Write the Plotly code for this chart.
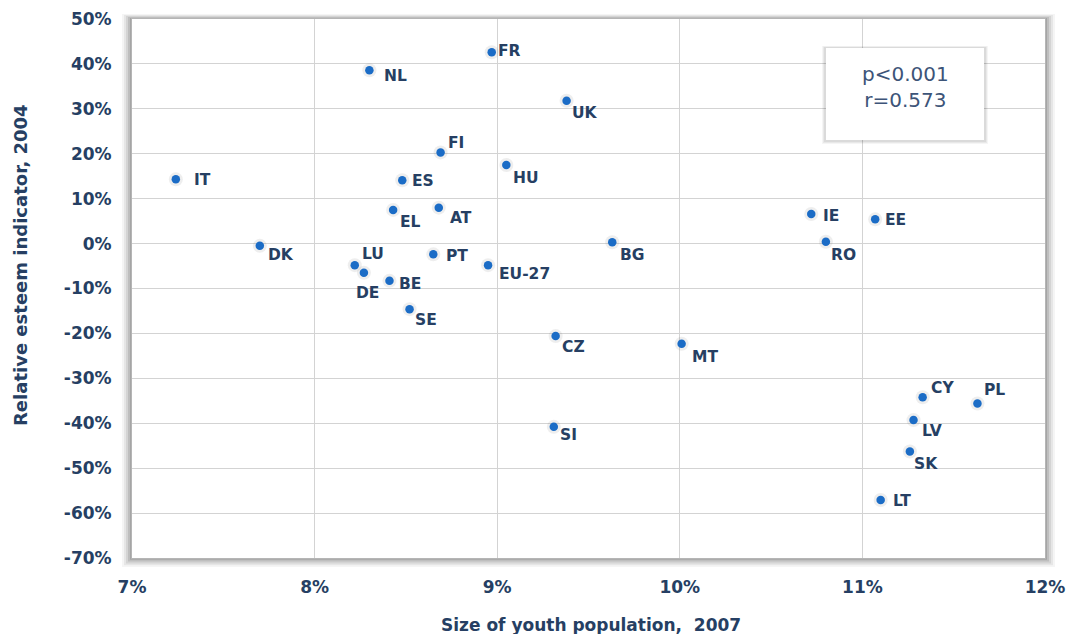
import plotly.graph_objects as go

# ---------------- data ----------------
countries = ["FR", "NL", "UK", "FI", "HU", "IT", "ES", "EL", "AT", "IE", "EE", "DK",
             "BG", "RO", "PT", "LU", "DE", "BE", "EU-27", "SE", "CZ", "MT", "CY",
             "PL", "LV", "SI", "SK", "LT"]
youth_pop_2007 = [8.97, 8.30, 9.38, 8.69, 9.05, 7.24, 8.48, 8.43, 8.68, 10.72, 11.07, 7.70,
                  9.63, 10.80, 8.65, 8.22, 8.27, 8.41, 8.95, 8.52, 9.32, 10.01, 11.33,
                  11.63, 11.28, 9.31, 11.26, 11.10]
esteem_2004 = [42.6, 38.6, 31.8, 20.3, 17.5, 14.3, 14.1, 7.5, 8.0, 6.6, 5.4, -0.5,
               0.3, 0.4, -2.4, -4.8, -6.5, -8.3, -4.8, -14.6, -20.6, -22.3, -34.2,
               -35.6, -39.3, -40.8, -46.3, -57.1]
x_tick_vals = [7, 8, 9, 10, 11, 12]
x_tick_text = ["7%", "8%", "9%", "10%", "11%", "12%"]
y_tick_vals = [-70, -60, -50, -40, -30, -20, -10, 0, 10, 20, 30, 40, 50]
y_tick_text = ["-70%", "-60%", "-50%", "-40%", "-30%", "-20%", "-10%", "0%",
               "10%", "20%", "30%", "40%", "50%"]
stats_lines = ["p<0.001", "r=0.573"]
x_title = "Size of youth population,  2007"
y_title = "Relative esteem indicator, 2004"

# label offsets (pixels: left edge of label relative to dot, vertical centre offset, + = down)
label_offsets = {
    "FR": (6, -1), "NL": (15, 6), "UK": (5, 12), "FI": (7, -9), "HU": (7, 13),
    "IT": (18, 1), "ES": (10, 1), "EL": (7, 12), "AT": (11, 10), "IE": (12, 2),
    "EE": (10, 1), "DK": (8, 9), "BG": (8, 13), "RO": (5, 13), "PT": (13, 2),
    "LU": (7, -11), "DE": (-8, 20), "BE": (10, 3), "EU-27": (11, 9), "SE": (5, 11),
    "CZ": (6, 11), "MT": (10, 13), "CY": (8, -9), "PL": (7, -13), "LV": (8, 11),
    "SI": (6, 8), "SK": (4, 12), "LT": (12, 1),
}

NAVY = "#263f63"
FONT_B = "DejaVu Sans"
SCREEN_W, SCREEN_H = 1075, 642
OFF = 8                      # page body margin in the browser
W, H = SCREEN_W - 2 * OFF, SCREEN_H - 2 * OFF
PL, PT_, PW, PH = 132, 19, 913, 539   # plot area on screen
ML, MT_ = PL - OFF, PT_ - OFF
MR, MB = W - ML - PW, H - MT_ - PH

fig = go.Figure()

# soft halo behind dots
fig.add_trace(go.Scatter(
    x=youth_pop_2007, y=esteem_2004, mode="markers",
    marker=dict(size=14, color="rgba(90,90,90,0.10)", line=dict(width=0)),
    hoverinfo="skip", showlegend=False))
fig.add_trace(go.Scatter(
    x=youth_pop_2007, y=esteem_2004, mode="markers",
    marker=dict(size=8.5, color="#1b6cc6", line=dict(width=0)),
    text=countries, hoverinfo="text", showlegend=False))


def sx(px):
    return (px - PL) / PW


def sy(py):
    return (PT_ + PH - py) / PH


annotations = []
for c, xv, yv in zip(countries, youth_pop_2007, esteem_2004):
    dx, dy = label_offsets[c]
    annotations.append(dict(
        x=xv, y=yv, xref="x", yref="y", text=c, showarrow=False,
        xanchor="left", yanchor="middle", xshift=dx - 2, yshift=-dy,
        font=dict(family=FONT_B, size=15.5, color=NAVY, weight="bold")))

# axis titles
annotations.append(dict(
    x=sx(591), y=sy(625), xref="paper", yref="paper",
    text=x_title, showarrow=False, xanchor="center", yanchor="middle",
    font=dict(family=FONT_B, size=17, color=NAVY, weight="bold")))
annotations.append(dict(
    x=sx(20), y=sy(265), xref="paper", yref="paper",
    text=y_title, showarrow=False, xanchor="center", yanchor="middle", textangle=-90,
    font=dict(family=FONT_B, size=18, color=NAVY, weight="bold")))

# stats box text
annotations.append(dict(
    x=sx(905), y=sy(87), xref="paper", yref="paper",
    text="<br>".join(stats_lines), showarrow=False, xanchor="center", yanchor="middle",
    align="center",
    font=dict(family=FONT_B, size=20, color="#3d5478")))


def px_rect(x0, y0, x1, y1):
    return dict(x0=sx(x0), x1=sx(x1), y0=sy(y1), y1=sy(y0))


shapes = []
# plot frame shadow
for i, a in enumerate([0.04, 0.06, 0.08, 0.10, 0.13]):
    g = 10 - 2 * i
    shapes.append(dict(type="rect", xref="paper", yref="paper", layer="below",
                       line=dict(width=0), fillcolor=f"rgba(0,0,0,{a})",
                       **px_rect(PL - g, PT_ - g * 0.5, PL + PW + g, PT_ + PH + g * 0.9)))
shapes.append(dict(type="rect", xref="paper", yref="paper", layer="below",
                   line=dict(width=0), fillcolor="white", **px_rect(PL, PT_, PL + PW, PT_ + PH)))

# stats box with shadow
for i, a in enumerate([0.04, 0.05, 0.06]):
    g = 4 - i
    shapes.append(dict(type="rect", xref="paper", yref="paper", layer="above",
                       line=dict(width=0), fillcolor=f"rgba(0,0,0,{a})",
                       **px_rect(826 - g, 48 - g * 0.5, 984 + g, 140 + g)))
shapes.append(dict(type="rect", xref="paper", yref="paper", layer="above",
                   line=dict(width=0), fillcolor="white", **px_rect(826, 48, 984, 140)))

fig.update_layout(
    width=W, height=H,
    margin=dict(l=ML, r=MR, t=MT_, b=MB, pad=0, autoexpand=False),
    paper_bgcolor="white", plot_bgcolor="white",
    shapes=shapes, annotations=annotations,
    xaxis=dict(range=[7, 12], tickmode="array", tickvals=x_tick_vals, ticktext=x_tick_text,
               automargin=False,
               showgrid=True, gridcolor="#d3d3d3", gridwidth=1.3,
               zeroline=False, showline=True, linecolor="#b5b5b5", linewidth=1, mirror=True,
               ticks="outside", ticklen=0, ticklabelstandoff=14,
               tickfont=dict(family=FONT_B, size=17, color=NAVY, weight="bold")),
    yaxis=dict(range=[-70, 50], tickmode="array", tickvals=y_tick_vals, ticktext=y_tick_text,
               automargin=False,
               showgrid=True, gridcolor="#d3d3d3", gridwidth=1.3,
               zeroline=False, showline=True, linecolor="#b5b5b5", linewidth=1, mirror=True,
               ticks="outside", ticklen=0, ticklabelstandoff=16,
               tickfont=dict(family=FONT_B, size=17, color=NAVY, weight="bold")),
)

fig.write_html("out.html")
